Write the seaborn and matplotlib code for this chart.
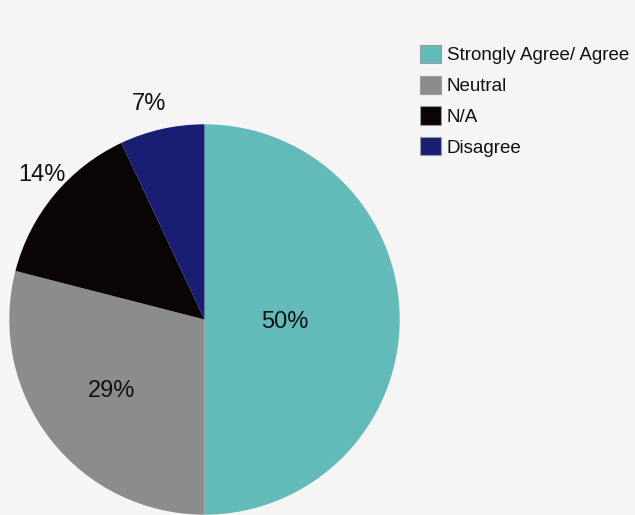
import matplotlib
matplotlib.use("Agg")
import matplotlib.pyplot as plt
import numpy as np
import seaborn as sns

# Survey response shares
categories = ["Strongly Agree/ Agree", "Neutral", "N/A", "Disagree"]
shares = [50, 29, 14, 7]

# Styling
slice_colors = sns.color_palette(["#62bbb8", "#8c8c8c", "#0a0405", "#1a1e73"])
label_radius = [0.41, 0.59, 1.12, 1.15]
label_angle_nudge = [0, -1.3, -2.5, 1.6]
bg = "#f5f5f5"

sns.set_theme(style="white")
plt.rcParams["font.family"] = ["Liberation Sans", "DejaVu Sans"]

fig = plt.figure(figsize=(6.35, 5.15), dpi=100, facecolor=bg)
W, H = 635, 515
cx, cy, r = 204.5, 319.5, 195.2
ax = fig.add_axes([(cx - r) / W, (H - cy - r) / H, 2 * r / W, 2 * r / H])
ax.set_facecolor(bg)

wedges, _ = ax.pie(
    shares,
    colors=slice_colors,
    startangle=90,
    counterclock=False,
    radius=1.0,
    wedgeprops=dict(linewidth=0),
)
ax.set_xlim(-1, 1)
ax.set_ylim(-1, 1)
ax.set_aspect("equal")
ax.axis("off")

# Percentage labels placed along each wedge's bisector
for w, val, rad, nudge in zip(wedges, shares, label_radius, label_angle_nudge):
    mid = np.deg2rad((w.theta1 + w.theta2) / 2 + nudge)
    ax.text(rad * np.cos(mid), rad * np.sin(mid), f"{val}%",
            ha="center", va="center_baseline", fontsize=17, color="#111111")

handles = [plt.Rectangle((0, 0), 1, 1, facecolor=c, edgecolor="#9a9a9a", linewidth=0.8)
           for c in slice_colors]
fig.legend(handles, categories, loc="upper left",
           bbox_to_anchor=(420 / W, 1 - 45 / H), frameon=False,
           fontsize=13.5, handlelength=1.12, handleheight=1.12,
           handletextpad=0.3, labelspacing=0.6, borderpad=0, borderaxespad=0,
           labelcolor="#111111")

fig.savefig("out.png", dpi=100, facecolor=bg)
